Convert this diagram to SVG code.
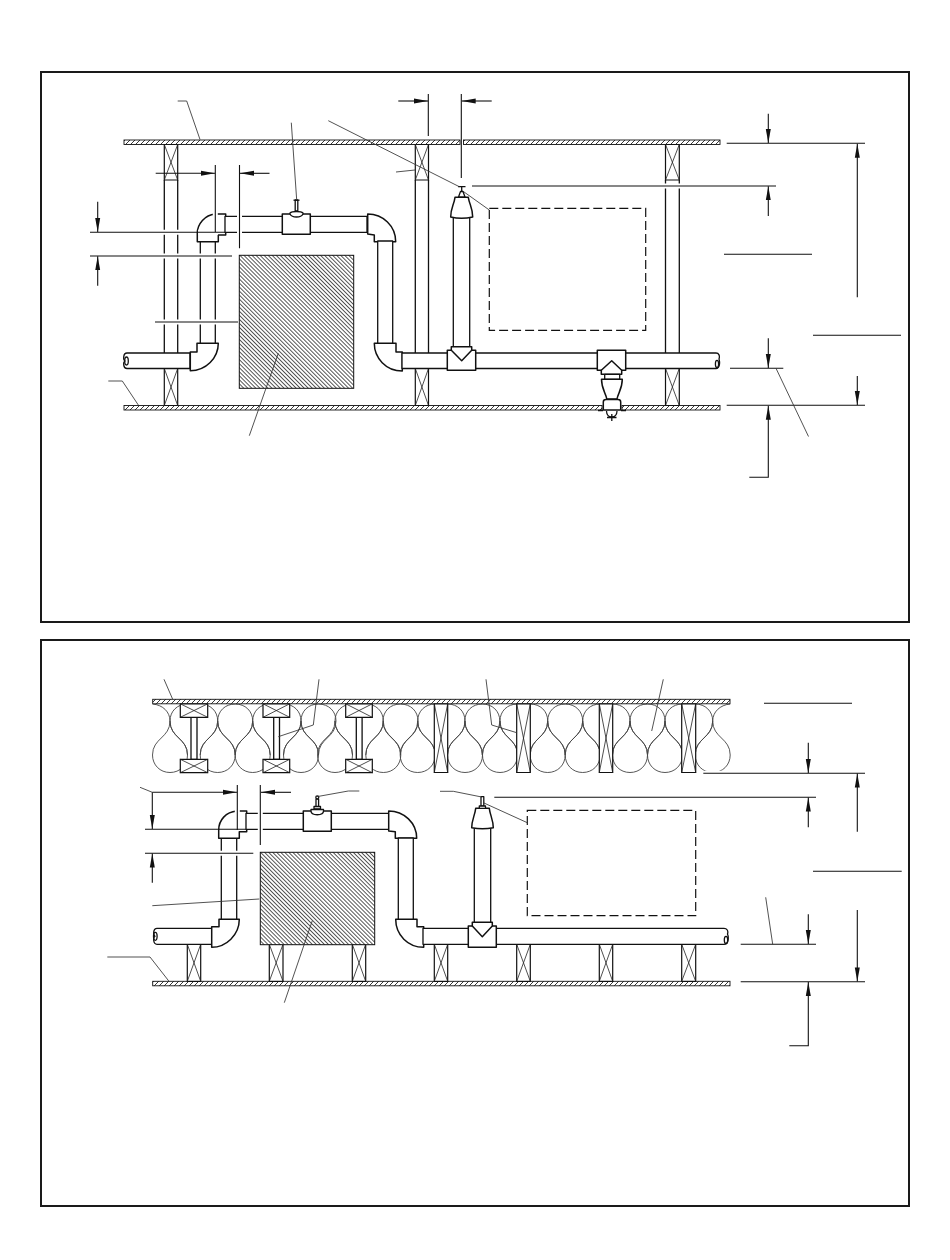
<svg xmlns="http://www.w3.org/2000/svg" width="950" height="1260" viewBox="0 0 950 1260">
<style>
.frame{fill:none;stroke:#1a1a1a;stroke-width:2}
.part{fill:#fff;stroke:#111;stroke-width:1.3;stroke-linejoin:round}
.open{fill:none;stroke:#111;stroke-width:1.3}
.block{fill:#fff;stroke:#111;stroke-width:1.2}
.x{fill:none;stroke:#222;stroke-width:.8}
.fit{fill:#fff;stroke:#111;stroke-width:1.5;stroke-linejoin:round}
.dim{fill:none;stroke:#111;stroke-width:1.1}
.lead{fill:none;stroke:#333;stroke-width:.85}
.halo{fill:none;stroke:#fff;stroke-width:5}
.ins{fill:none;stroke:#444;stroke-width:.9}
.dash{fill:#fff;stroke:#111;stroke-width:1.2;stroke-dasharray:9 4}
.hatch{fill:url(#diag);stroke:#111;stroke-width:1}
.wall{fill:url(#wallh);stroke:#111;stroke-width:.9}
</style>
<defs>
<marker id="a" markerUnits="userSpaceOnUse" markerWidth="16" markerHeight="6" refX="14" refY="3" orient="auto-start-reverse"><path d="M0 .5L14 3L0 5.5Z" fill="#111"/></marker>
<pattern id="wallh" patternUnits="userSpaceOnUse" width="5" height="5" x="0" y="0"><rect width="5" height="5" fill="#fff"/><path d="M-1 6L6 -1" stroke="#222" stroke-width=".9"/></pattern>
<pattern id="diag" patternUnits="userSpaceOnUse" width="2.85" height="3" patternTransform="rotate(-45)"><rect width="2.85" height="3" fill="#fff"/><rect width=".75" height="3" fill="#222"/></pattern>
<path id="up" d="M0 755C0 738 -17.5 738 -17.5 721C-17.5 711 -10 704 0 704C10 704 17.5 711 17.5 721C17.5 738 0 738 0 755Z"/>
<path id="ul" d="M0 755C0 738 -17.5 738 -17.5 721C-17.5 711 -10 704 0 704"/>
<path id="ur" d="M0 704C10 704 17.5 711 17.5 721C17.5 738 0 738 0 755"/>
<path id="lo" d="M0 721C0 738 -17.5 738 -17.5 755C-17.5 765 -10 772.5 0 772.5C10 772.5 17.5 765 17.5 755C17.5 738 0 738 0 721Z"/>
</defs>
<rect width="950" height="1260" fill="#fff"/>
<rect class="frame" x="41" y="72" width="868" height="550"/>
<rect class="frame" x="41" y="640" width="868" height="566"/>

<!-- TOP PANEL -->
<g id="top-walls">
<rect class="wall" x="124" y="140" width="336" height="4.5"/>
<rect class="wall" x="463.5" y="140" width="256.5" height="4.5"/>
<rect class="wall" x="124" y="405.5" width="478" height="4.5"/>
<rect class="wall" x="622" y="405.5" width="98" height="4.5"/>
</g>
<g id="top-joist-1">
<path class="open" d="M164.3 180V353M177.7 180V353"/>
<path class="block" d="M164.3 144.5H177.7V180H164.3Z"/><path class="x" d="M164.3 144.5L177.7 180M177.7 144.5L164.3 180"/>
<path class="block" d="M164.3 368.5H177.7V405.5H164.3Z"/><path class="x" d="M164.3 368.5L177.7 405.5M177.7 368.5L164.3 405.5"/>
</g>
<g id="top-joist-2">
<path class="open" d="M415.3 180V353M428.5 180V353"/>
<path class="block" d="M415.3 144.5H428.5V180H415.3Z"/><path class="x" d="M415.3 144.5L428.5 180M428.5 144.5L415.3 180"/>
<path class="block" d="M415.3 368.5H428.5V405.5H415.3Z"/><path class="x" d="M415.3 368.5L428.5 405.5M428.5 368.5L415.3 405.5"/>
</g>
<g id="top-joist-3">
<path class="open" d="M665.5 180V353M679.3 180V353"/>
<path class="block" d="M665.5 144.5H679.3V180H665.5Z"/><path class="x" d="M665.5 144.5L679.3 180M679.3 144.5L665.5 180"/>
<path class="block" d="M665.5 368.5H679.3V405.5H665.5Z"/><path class="x" d="M665.5 368.5L679.3 405.5M679.3 368.5L665.5 405.5"/>
</g>
<g id="top-pipe">
<path class="part" d="M190 353H127C123 353 123 360 125 361C123 362 123 368.5 127 368.5H190Z"/>
<ellipse class="open" cx="126.5" cy="361" rx="1.8" ry="4"/>
<rect class="part" x="200.3" y="241" width="15" height="103"/>
<path class="fit" d="M190.3 352H197V343.3H218.3C218.3 358 206 370.7 190.3 370.7Z"/>
<path class="fit" d="M197.3 241.7V233.3C197.3 224 205 215 215 214H225.7V235H218.3V241.7Z"/>
<rect class="part" x="225" y="216.3" width="142" height="16"/>
<path class="fit" d="M367.7 214C383 214 395.7 226 395.7 241.7H374.3V235L367.7 234Z"/>
<rect class="part" x="377.7" y="241" width="15" height="103"/>
<path class="fit" d="M374.3 343.3H396V352H402.3V371C386 371 374.3 358 374.3 343.3Z"/>
<rect class="part" x="402" y="353" width="46" height="15.5"/>
<path class="part" d="M475 353H716C719 353 720 356 719 359C720 362 720 368.5 716 368.5H475Z"/>
<ellipse class="open" cx="717" cy="364" rx="1.6" ry="3.6"/>
</g>
<g id="top-valve">
<path class="part" d="M295.2 211V200H297.8V211Z"/>
<path class="open" d="M293.5 200.2H299.5"/>
<rect class="fit" x="282.3" y="214" width="28" height="20.3"/>
<path class="part" d="M290 214V213C292 211 301 211 303 213V214C301 218 292 218 290 214Z"/>
</g>
<g id="top-riser">
<rect class="part" x="453.3" y="216" width="16.4" height="131"/>
<path class="fit" d="M450.7 217C450.7 208 454 205 455 197.3H468.3C469.5 205 472.7 208 472.7 217C466 218.5 457 218.5 450.7 217Z"/>
<path class="part" d="M458.5 197L460.5 191.5H463L465 197Z"/>
<path class="open" d="M461.7 187V192M458 186.7H465.5" stroke-width="1.6"/>
<rect class="fit" x="447.3" y="350.3" width="28.4" height="20"/>
<path class="fit" d="M451.3 346.7H471.7V350.3L461.7 360.7L451.3 350.3Z"/>
</g>
<g id="top-sprinkler">
<rect class="fit" x="597.3" y="350.3" width="28.4" height="20"/>
<path class="fit" d="M601.3 370.3L611.7 360.7L621.7 370.3V374.3H601.3Z"/>
<rect class="part" x="604.7" y="374.3" width="15" height="5"/>
<path class="fit" d="M601.5 379.3H622.3C622.3 389 618 393 617 399H606.8C605.8 393 601.5 389 601.5 379.3Z"/>
<path class="fit" d="M603.3 410V402C603.3 400.5 604.5 399.5 606 399.5H618C619.5 399.5 620.7 400.5 620.7 402V410Z"/>
<path class="open" d="M598 410.5H603M621 410.5H626"/>
<path class="open" d="M606.5 411C606.5 419 617 419 617 411M611.8 414V421M607 417.5H616.5"/>
</g>
<rect id="top-dashed-box" class="dash" x="489.3" y="208.3" width="156.4" height="122"/>
<rect id="top-hatched-box" class="hatch" x="239.3" y="255.3" width="114.4" height="133"/>
<g id="top-connectors">
<path class="halo" d="M161 232.3H181M198 232.3H218M161 256H181M198 256H218M161 322H181M198 322H218M663 186H682M239.5 213V236M215.3 209V218"/>
<path class="dim" d="M90 232.3H225M90 256H232M155 322H238M215.3 165V232M239.5 165V248.3"/>
<path class="dim" marker-end="url(#a)" d="M155.7 173.3H215"/>
<path class="dim" marker-end="url(#a)" d="M269.5 173.3H240"/>
<path class="dim" marker-end="url(#a)" d="M97.7 201.7V232"/>
<path class="dim" marker-end="url(#a)" d="M97.7 285.7V256.3"/>
<path class="dim" marker-end="url(#a)" d="M398.3 101H428"/>
<path class="dim" marker-end="url(#a)" d="M491.7 101H461.7"/>
<path class="dim" d="M428.3 94V136M461.3 94V178M472 186H776"/>
<path class="dim" d="M726.7 143.3H865M724 254.3H812M813 335.3H901M726.7 405.3H865M730 368.3H783.3"/>
<path class="dim" marker-end="url(#a)" d="M768.3 113.7V143"/>
<path class="dim" marker-end="url(#a)" d="M768.3 216V186.3"/>
<path class="dim" marker-end="url(#a)" d="M857.3 297.3V143.7"/>
<path class="dim" marker-end="url(#a)" d="M857.3 376V405"/>
<path class="dim" marker-end="url(#a)" d="M768.3 338.3V368"/>
<path class="dim" marker-end="url(#a)" d="M749.3 477.3H768.3V405.7"/>
<path class="lead" d="M177.7 101H186.7L200 139.5"/>
<path class="lead" d="M291.3 122.7L296.7 200"/>
<path class="lead" d="M328.3 120.7L459.3 186.7"/>
<path class="lead" d="M462.7 191L489.3 210"/>
<path class="lead" d="M396 172L415 170"/>
<path class="lead" d="M108.3 381H122.3L138.3 405"/>
<path class="lead" d="M249.3 435.7L278.3 353.3"/>
<path class="lead" d="M776 368.3L808.5 436.5"/>
</g>

<!-- BOTTOM PANEL -->
<g id="bottom-insulation" class="ins">
<path d="M152.7 704C163 705 170 712 170 721"/>
<path d="M730 704C720 705 712.7 712 712.7 721"/>
<use href="#ul" x="187.5"/><use href="#ur" x="200.2"/><use href="#up" x="235.2"/>
<use href="#ul" x="270.2"/><use href="#ur" x="283.5"/><use href="#up" x="318.5"/>
<use href="#ul" x="352.5"/><use href="#ur" x="365.8"/><use href="#up" x="400.5"/>
<use href="#ul" x="435.2"/><use href="#ur" x="447.5"/><use href="#up" x="482.3"/>
<use href="#ul" x="517.5"/><use href="#ur" x="530.2"/><use href="#up" x="565.2"/>
<use href="#ul" x="600.2"/><use href="#ur" x="612.5"/><use href="#up" x="647.5"/>
<use href="#ul" x="682.5"/><use href="#ur" x="695.2"/>
<use href="#lo" x="170"/><use href="#lo" x="217.7"/><use href="#lo" x="252.7"/>
<use href="#lo" x="301"/><use href="#lo" x="335"/><use href="#lo" x="383.3"/>
<use href="#lo" x="417.7"/><use href="#lo" x="465"/><use href="#lo" x="500"/>
<use href="#lo" x="547.7"/><use href="#lo" x="582.7"/><use href="#lo" x="630"/>
<use href="#lo" x="665"/><use href="#lo" x="712.7"/>
</g>
<g id="bottom-walls">
<rect class="wall" x="152.7" y="699.3" width="577.3" height="4.5"/>
<rect class="wall" x="152.7" y="981.3" width="577.3" height="4.5"/>
</g>
<g id="bottom-i-joist-1">
<rect class="part" x="191" y="717.3" width="6" height="42"/>
<path class="block" d="M180.3 703.8H207.7V717.3H180.3Z"/><path class="x" d="M180.3 703.8L207.7 717.3M207.7 703.8L180.3 717.3"/>
<path class="block" d="M180.3 759.3H207.7V772.7H180.3Z"/><path class="x" d="M180.3 759.3L207.7 772.7M207.7 759.3L180.3 772.7"/>
</g>
<g id="bottom-i-joist-2">
<rect class="part" x="273.7" y="717.3" width="5.8" height="42"/>
<path class="block" d="M263 703.8H289.7V717.3H263Z"/><path class="x" d="M263 703.8L289.7 717.3M289.7 703.8L263 717.3"/>
<path class="block" d="M263 759.3H289.7V772.7H263Z"/><path class="x" d="M263 759.3L289.7 772.7M289.7 759.3L263 772.7"/>
</g>
<g id="bottom-i-joist-3">
<rect class="part" x="356.3" y="717.3" width="5.8" height="42"/>
<path class="block" d="M345.7 703.8H372.3V717.3H345.7Z"/><path class="x" d="M345.7 703.8L372.3 717.3M372.3 703.8L345.7 717.3"/>
<path class="block" d="M345.7 759.3H372.3V772.7H345.7Z"/><path class="x" d="M345.7 759.3L372.3 772.7M372.3 759.3L345.7 772.7"/>
</g>
<g id="bottom-truss-joists">
<path class="block" d="M434.3 703.8H447.7V772.5H434.3Z"/><path class="x" d="M434.3 703.8L447.7 772.5M447.7 703.8L434.3 772.5"/>
<path class="block" d="M516.7 703.8H530.3V772.5H516.7Z"/><path class="x" d="M516.7 703.8L530.3 772.5M530.3 703.8L516.7 772.5"/>
<path class="block" d="M599.3 703.8H612.7V772.5H599.3Z"/><path class="x" d="M599.3 703.8L612.7 772.5M612.7 703.8L599.3 772.5"/>
<path class="block" d="M681.7 703.8H695.7V772.5H681.7Z"/><path class="x" d="M681.7 703.8L695.7 772.5M695.7 703.8L681.7 772.5"/>
</g>
<g id="bottom-floor-joists">
<path class="block" d="M187.3 944.3H200.7V981.3H187.3Z"/><path class="x" d="M187.3 944.3L200.7 981.3M200.7 944.3L187.3 981.3"/>
<path class="block" d="M269.3 944.3H283V981.3H269.3Z"/><path class="x" d="M269.3 944.3L283 981.3M283 944.3L269.3 981.3"/>
<path class="block" d="M352.3 944.3H365.7V981.3H352.3Z"/><path class="x" d="M352.3 944.3L365.7 981.3M365.7 944.3L352.3 981.3"/>
<path class="block" d="M434.3 944.3H447.7V981.3H434.3Z"/><path class="x" d="M434.3 944.3L447.7 981.3M447.7 944.3L434.3 981.3"/>
<path class="block" d="M516.7 944.3H530.3V981.3H516.7Z"/><path class="x" d="M516.7 944.3L530.3 981.3M530.3 944.3L516.7 981.3"/>
<path class="block" d="M599.3 944.3H612.7V981.3H599.3Z"/><path class="x" d="M599.3 944.3L612.7 981.3M612.7 944.3L599.3 981.3"/>
<path class="block" d="M681.7 944.3H695.7V981.3H681.7Z"/><path class="x" d="M681.7 944.3L695.7 981.3M695.7 944.3L681.7 981.3"/>
</g>
<g id="bottom-pipe">
<path class="part" d="M212 928.3H157C153 928.3 153 935 155 936.3C153 937.5 153 944.3 157 944.3H212Z"/>
<ellipse class="open" cx="155.3" cy="936.3" rx="1.8" ry="4"/>
<rect class="part" x="221.3" y="838" width="15.4" height="82"/>
<path class="fit" d="M211.7 926.7H219V919.3H239.3C239.3 935 226 947.3 211.7 947.3Z"/>
<path class="fit" d="M218.7 838.3V830C218.7 820 226 812 236.7 811H246.7V831.7H239.3V838.3Z"/>
<rect class="part" x="246" y="813.3" width="143" height="16"/>
<path class="fit" d="M388.7 811C404 811 416.7 823 416.7 838.3H395.3V831.7L388.7 831Z"/>
<rect class="part" x="398.3" y="838" width="15" height="82"/>
<path class="fit" d="M395.7 919.3H417V926.7H423.7V947.3C408 947.3 395.7 935 395.7 919.3Z"/>
<rect class="part" x="423" y="928.3" width="46" height="16"/>
<path class="part" d="M496 928.3H724C727 928.3 728.5 931 727.5 934C728.8 937 728.8 944.3 724 944.3H496Z"/>
<ellipse class="open" cx="726" cy="940" rx="1.7" ry="3.6"/>
</g>
<g id="bottom-valve">
<rect class="part" x="316" y="799" width="2.6" height="10"/>
<circle class="part" cx="317.3" cy="797.3" r="1.5"/>
<rect class="part" x="314" y="806.5" width="6.5" height="2.5"/>
<rect class="fit" x="303.3" y="811" width="28" height="20.3"/>
<path class="part" d="M311 811V809.5H323.5V811C323.5 816 311 816 311 811Z"/>
</g>
<g id="bottom-riser">
<rect class="part" x="474.3" y="826" width="16.4" height="97"/>
<path class="fit" d="M471.7 827.7C471.7 820 475 815 475.7 808.3H489.3C490 815 493.3 820 493.3 827.7C487 829 478 829 471.7 827.7Z"/>
<rect class="part" x="481" y="796.7" width="2.8" height="9.5"/>
<rect class="part" x="479.3" y="806" width="6.2" height="2.4"/>
<rect class="fit" x="468.3" y="926" width="28" height="21.3"/>
<path class="fit" d="M472.3 922.3H492.3V926L482.3 936.7L472.3 926Z"/>
</g>
<rect id="bottom-dashed-box" class="dash" x="527.3" y="810.3" width="168.4" height="105.4"/>
<rect id="bottom-hatched-box" class="hatch" x="260.3" y="852.3" width="114.4" height="92.4"/>
<g id="bottom-connectors">
<path class="halo" d="M219 853.3H239M260.3 810V832M237.3 806V815M703.3 773.3H732"/>
<path class="dim" d="M145 829.3H246M145 853.3H253.3M237.3 785V830M260.3 785V845"/>
<path class="dim" marker-end="url(#a)" d="M152.3 792.3H237"/>
<path class="dim" marker-end="url(#a)" d="M291 792.3H261"/>
<path class="dim" marker-end="url(#a)" d="M152.3 792.3V829"/>
<path class="dim" marker-end="url(#a)" d="M152.3 882.7V853.6"/>
<path class="dim" d="M494.3 797.3H816M703.3 773.3H865M764 703.3H852M813 871.3H901.7M740.7 944.3H816M740.7 981.7H865"/>
<path class="dim" marker-end="url(#a)" d="M808.3 742.7V773"/>
<path class="dim" marker-end="url(#a)" d="M808.3 827.3V797.6"/>
<path class="dim" marker-end="url(#a)" d="M857.3 831.7V773.6"/>
<path class="dim" marker-end="url(#a)" d="M808.3 914.3V944"/>
<path class="dim" marker-end="url(#a)" d="M857.3 910V981.4"/>
<path class="dim" marker-end="url(#a)" d="M789.3 1045.7H808.3V982"/>
<path class="lead" d="M140 787.3L152.3 792.3"/>
<path class="lead" d="M152.3 905.7L259.3 899"/>
<path class="lead" d="M316.7 796.7L348.3 791H359.3"/>
<path class="lead" d="M107.3 957H150L169 981.3"/>
<path class="lead" d="M164 679.3L172.7 699.3"/>
<path class="lead" d="M319 679.3L313.3 725L278.3 736.7"/>
<path class="lead" d="M486 679.3L491.7 725L516.7 732.7"/>
<path class="lead" d="M663.3 679.3L651.7 731"/>
<path class="lead" d="M440 791.3H453.3L481.7 797"/>
<path class="lead" d="M483.3 802.7L527.3 822.7"/>
<path class="lead" d="M284.3 1002.7L312.3 920.7"/>
<path class="lead" d="M765.7 897.3L772.7 944.3"/>
</g>
</svg>
